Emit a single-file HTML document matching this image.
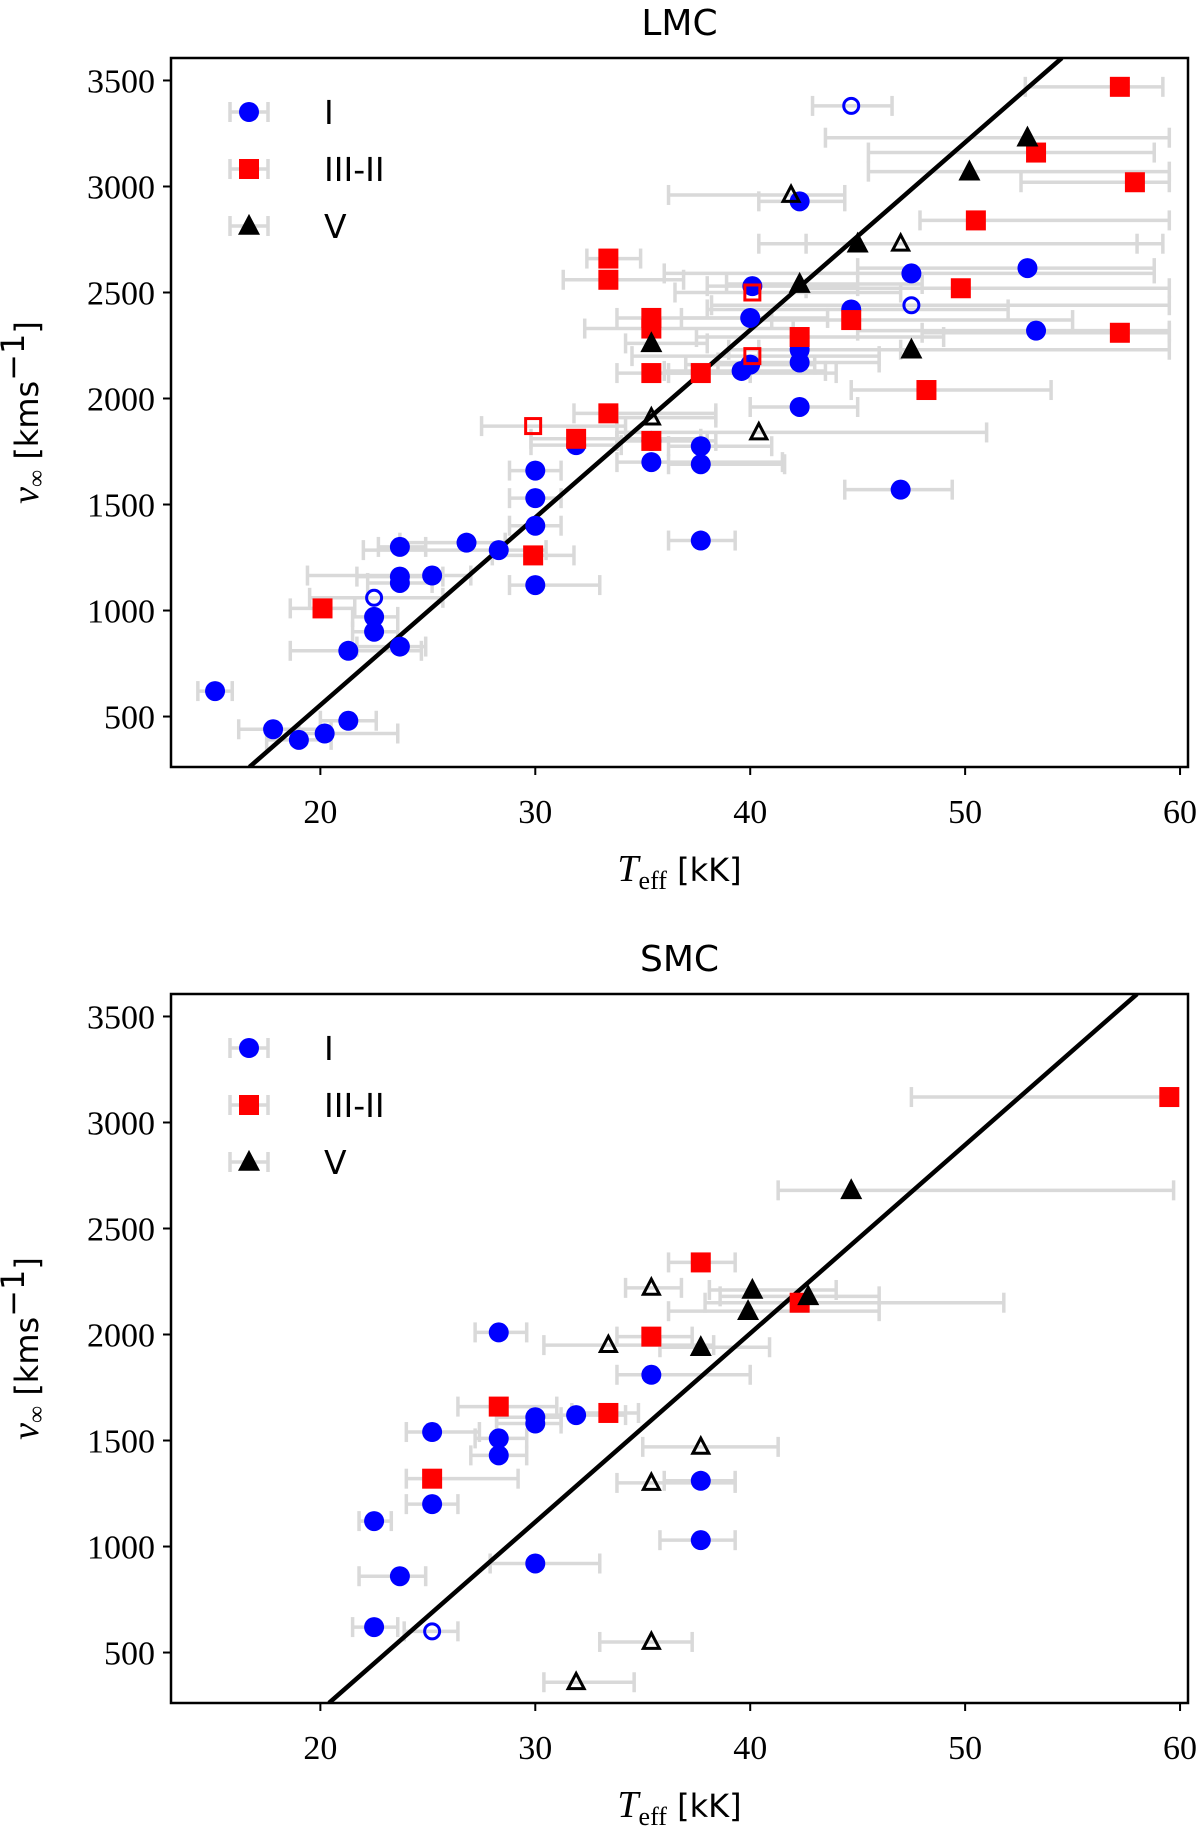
<!DOCTYPE html>
<html><head><meta charset="utf-8">
<style>
html,body{margin:0;padding:0;background:#fff;}
svg{display:block;}
.tick{font-family:"Liberation Serif",serif;font-size:34px;fill:#000;}
.ttl{font-family:"DejaVu Sans","Liberation Sans",sans-serif;font-size:36px;fill:#000;}
.leg{font-family:"DejaVu Sans","Liberation Sans",sans-serif;font-size:33px;fill:#000;}
.lab{font-family:"Liberation Serif",serif;font-size:34px;fill:#000;}
.labs{font-family:"DejaVu Sans","Liberation Sans",sans-serif;font-size:32px;}
</style></head>
<body>
<svg id="chart" width="1200" height="1829" viewBox="0 0 1200 1829" xmlns="http://www.w3.org/2000/svg"></svg>
<script>
// ---- data ----
const xTicks=[20,30,40,50,60];
const yTicks=[500,1000,1500,2000,2500,3000,3500];
const classLabels=["I","III-II","V"];
// LMC: [T, v, Tlo, Thi]
const lmcIfilled=[[15.1,620,14.3,15.9],[17.8,440,16.2,20.5],[19,390,17.5,20.5],[20.2,420,19,23.6],[21.3,480,20,22.6],[21.3,810,18.6,24.7],[22.5,900,21.5,23.6],[22.5,970,21.5,23.6],[23.7,830,21.7,24.9],[23.7,1130,22.2,25.2],[23.7,1160,21.7,25.7],[23.7,1300,22.7,24.9],[25.2,1165,19.4,27],[26.8,1320,23.7,28.6],[28.3,1285,22,30.5],[30,1120,28.8,33],[30,1400,28.8,31.2],[30,1530,28.8,31.2],[30,1660,28.8,31.2],[31.9,1780,29.8,34],[35.4,1700,33.8,41.5],[35.4,1800,33.8,38],[37.7,1330,36.2,39.3],[37.7,1690,36.2,41.6],[37.7,1775,36.2,41],[39.6,2130,36,43.5],[40,2160,37,43],[40,2380,36.8,43.6],[40.1,2530,38,45],[42.3,1960,40,45],[42.3,2170,38.5,46],[42.3,2230,39,47],[42.3,2930,40.4,44.4],[44.7,2420,38,52],[47,1570,44.4,49.4],[47.5,2590,36,58.8],[52.9,2615,45,58.8],[53.3,2320,45,59.5]];
const lmcIopen=[[22.5,1060,19.5,25.7],[44.7,3380,42.9,46.6],[47.5,2440,38.2,59.5]];
const lmcIIIfilled=[[20.1,1010,18.6,21.6],[29.9,1260,28,31.8],[31.9,1810,29.8,37.7],[33.4,1930,31.8,38.4],[33.4,2560,31.3,36.9],[33.4,2660,32.4,34.9],[35.4,1800,33.8,38.4],[35.4,2120,33.8,40],[35.4,2330,32.3,42],[35.4,2380,33.8,41],[37.7,2120,36.2,44],[42.3,2290,37.5,49],[44.7,2370,40,55],[48.2,2040,44.7,54],[49.8,2520,42.6,59.5],[50.5,2840,47.9,59.5],[53.3,3160,45.5,58.8],[57.2,3470,52.8,59.2],[57.9,3020,52.6,59.5],[57.2,2310,48,59.5]];
const lmcIIIopen=[[29.9,1870,27.5,34.2],[40.1,2500,36.5,47],[40.1,2200,34.5,46]];
const lmcVfilled=[[35.4,2260,34.2,38],[42.3,2540,38.9,48],[45,2730,40.4,59.2],[47.5,2230,40.4,59.5],[50.2,3070,45.5,59.5],[52.9,3230,43.5,59.5]];
const lmcVopen=[[35.4,1910,33.8,38.4],[40.4,1840,33.8,51],[41.9,2960,36.2,44.4],[47,2730,42.6,58]];
// SMC
const smcIfilled=[[22.5,620,21.5,23.6],[22.5,1120,21.8,23.3],[23.7,860,21.8,24.9],[25.2,1200,24,26.4],[25.2,1540,24,27.4],[28.3,1430,27,29.6],[28.3,1510,27.2,29.6],[28.3,2010,27.2,29.6],[30,1580,28.2,31.2],[30,1610,28.2,31.2],[31.9,1620,29.8,34.2],[30,920,27.9,33],[35.4,1810,33.8,40],[37.7,1030,35.8,39.3],[37.7,1310,36,39.3]];
const smcIopen=[[25.2,600,23.9,26.4]];
const smcIIIfilled=[[25.2,1320,24,29.2],[28.3,1660,26.4,31],[33.4,1630,31.7,34.8],[35.4,1990,33.8,37.3],[37.7,2340,36.2,39.3],[42.3,2150,37.9,51.8],[59.5,3120,47.5,59.5]];
const smcIIIopen=[];
const smcVfilled=[[37.7,1940,35.8,40.9],[39.9,2110,36.2,46],[40.1,2210,38.1,44],[42.7,2180,38.6,46],[44.7,2680,41.3,59.7]];
const smcVopen=[[31.9,360,30.4,34.6],[33.4,1950,30.4,38.3],[35.4,550,33,37.3],[35.4,1300,33.8,39.3],[35.4,2220,34.2,36.8],[37.7,1470,35,41.3]];
// fit lines [T0,v0,T1,v1]
const lmcFit=[16.7,262,54.5,3606];
const smcFit=[20.4,262,58,3606];

// ---- drawing ----
const NS="http://www.w3.org/2000/svg";
const svg=document.getElementById('chart');
function mk(tag,attrs,parent){const e=document.createElementNS(NS,tag);for(const k in attrs)e.setAttribute(k,attrs[k]);(parent||svg).appendChild(e);return e;}
const X0=171,X1=1188,XMIN=13.05,XMAX=60.37,YMIN=262,YMAX=3606;
function panel(name,top,datasets,fit){
  const g=mk('g',{});
  
  
  const Y0=top, Y1=top+709;
  const sx=t=>X0+(t-XMIN)/(XMAX-XMIN)*(X1-X0);
  const sy=v=>Y1-(v-YMIN)/(YMAX-YMIN)*(Y1-Y0);
  const clip='clip-'+name;
  const cp=mk('clipPath',{id:clip},g);mk('rect',{x:X0,y:Y0,width:X1-X0,height:Y1-Y0},cp);
  const t=mk('text',{x:(X0+X1)/2,y:top-23,'text-anchor':'middle',class:'ttl'},g);t.textContent=name.toUpperCase();
  
  
  const plot=mk('g',{'clip-path':'url(#'+clip+')'},g);
  const eb=mk('g',{stroke:'#d9d9d9','stroke-width':3.5,fill:'none'},plot);
  
  
  datasets.forEach(ds=>ds.pts.forEach(p=>{
    const y=sy(p[1]),a=sx(p[2]),b=sx(p[3]);
    mk('line',{x1:a,x2:b,y1:y,y2:y},eb);
    mk('line',{x1:a,x2:a,y1:y-10,y2:y+10},eb);
    mk('line',{x1:b,x2:b,y1:y-10,y2:y+10},eb);
  }));
  const fl=mk('line',{x1:sx(fit[0]),y1:sy(fit[1]),x2:sx(fit[2]),y2:sy(fit[3]),stroke:'#000','stroke-width':4.5},plot);
  
  
  datasets.forEach(ds=>{
    const mg=mk('g',{},plot);
    
    
    ds.pts.forEach(p=>marker(mg,ds.shape,ds.color,ds.open,sx(p[0]),sy(p[1])));
  });
  mk('rect',{x:X0,y:Y0,width:X1-X0,height:Y1-Y0,fill:'none',stroke:'#000','stroke-width':2.5},g);
  xTicks.forEach(v=>{const x=sx(v);mk('line',{x1:x,x2:x,y1:Y1,y2:Y1+8,stroke:'#000','stroke-width':2},g);
    const tx=mk('text',{x:x,y:Y1+56,'text-anchor':'middle',class:'tick'},g);tx.textContent=v;
    
    });
  yTicks.forEach(v=>{const y=sy(v);mk('line',{x1:X0-8,x2:X0,y1:y,y2:y,stroke:'#000','stroke-width':2},g);
    const ty=mk('text',{x:X0-16,y:y+12,'text-anchor':'end',class:'tick'},g);ty.textContent=v;
    
    });
  const xl=mk('text',{x:(X0+X1)/2,y:Y1+114,'text-anchor':'middle',class:'lab'},g);
  xl.innerHTML='<tspan font-style="italic" font-size="38">T</tspan><tspan font-size="26" dy="8">eff</tspan><tspan dy="-8" class="labs"> [kK]</tspan>';
  
  
  const yl=mk('text',{x:0,y:0,'text-anchor':'middle',class:'lab',transform:'translate(38,'+((Y0+Y1)/2)+') rotate(-90)'},g);
  yl.innerHTML='<tspan font-style="italic" font-size="38">v</tspan><tspan font-size="24" dy="6">∞</tspan><tspan dy="-6" class="labs"> [kms</tspan><tspan class="labs" font-size="22" dy="-14">−1</tspan><tspan class="labs" dy="14">]</tspan>';
  
  
  const lg=mk('g',{},g);
  
  
  const lc=[['circle','#0000ff'],['square','#ff0000'],['triangle','#000']];
  lc.forEach((c,i)=>{
    const y=top+54+i*57;
    const e=mk('g',{},lg);
    
    
    mk('line',{x1:230,x2:268,y1:y,y2:y,stroke:'#d9d9d9','stroke-width':3.5},e);
    mk('line',{x1:230,x2:230,y1:y-10,y2:y+10,stroke:'#d9d9d9','stroke-width':3.5},e);
    mk('line',{x1:268,x2:268,y1:y-10,y2:y+10,stroke:'#d9d9d9','stroke-width':3.5},e);
    marker(e,c[0],c[1],false,249,y);
    const tt=mk('text',{x:324,y:y+12,class:'leg'},e);tt.textContent=classLabels[i];
  });
}
function marker(g,shape,color,open,x,y){
  const st=open?{fill:'none',stroke:color,'stroke-width':3}:{fill:color};
  if(shape==='circle'){mk('circle',Object.assign({cx:x,cy:y,r:open?7.5:10},st),g);}
  else if(shape==='square'){const s=open?15:20;mk('rect',Object.assign({x:x-s/2,y:y-s/2,width:s,height:s},st),g);}
  else{const s=open?8:11;mk('polygon',Object.assign({points:`${x},${y-s*1.1} ${x-s},${y+s*0.8} ${x+s},${y+s*0.8}`},st),g);}
}
function sets(p,a,b,c,d,e,f){return [
 {id:p+'-class-I',shape:'circle',color:'#0000ff',open:false,pts:a},
 {id:p+'-class-I-open',shape:'circle',color:'#0000ff',open:true,pts:b},
 {id:p+'-class-III-II',shape:'square',color:'#ff0000',open:false,pts:c},
 {id:p+'-class-III-II-open',shape:'square',color:'#ff0000',open:true,pts:d},
 {id:p+'-class-V',shape:'triangle',color:'#000',open:false,pts:e},
 {id:p+'-class-V-open',shape:'triangle',color:'#000',open:true,pts:f}];}
panel('lmc',58,sets('lmc',lmcIfilled,lmcIopen,lmcIIIfilled,lmcIIIopen,lmcVfilled,lmcVopen),lmcFit);
panel('smc',994,sets('smc',smcIfilled,smcIopen,smcIIIfilled,smcIIIopen,smcVfilled,smcVopen),smcFit);
</script>
</body></html>
